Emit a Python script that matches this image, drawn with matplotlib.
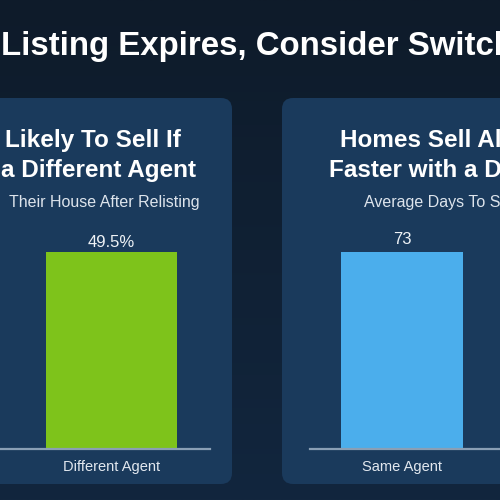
import numpy as np
import matplotlib
matplotlib.use("Agg")
import matplotlib.pyplot as plt
from matplotlib.patches import FancyBboxPatch

plt.rcParams['font.family'] = ['Liberation Sans', 'DejaVu Sans']

# data
left_cats = ['Different Agent']
left_vals = [49.5]
left_labels = ['49.5%']

right_cats = ['Same Agent']
right_vals = [73]
right_labels = ['73']

title = 'Listing Expires, Consider Switching Agents'
left_head = ['Likely To Sell If', 'a Different Agent']
left_sub = 'Their House After Relisting'
right_head = ['Homes Sell Almost', 'Faster with a Different Agent']
right_sub = 'Average Days To Sell'

W = H = 500.0
def fx(px):
    return px / W
def fy(py):
    return 1 - py / H

fig = plt.figure(figsize=(5, 5), dpi=100)

# background gradient
bg = fig.add_axes([0, 0, 1, 1], zorder=0)
grad = np.linspace(0, 1, 256).reshape(-1, 1)
top = np.array([14, 27, 42]) / 255.
bot = np.array([18, 38, 62]) / 255.
img = top + (bot - top) * grad[:, :, None]
bg.imshow(img, aspect='auto', extent=[0, 1, 0, 1])
bg.set_axis_off()

# panels
panel_col = '#1a3a5c'
for x0, x1 in [(-60, 232), (282, 560)]:
    p = FancyBboxPatch((fx(x0), fy(484)), fx(x1) - fx(x0), fy(98) - fy(484),
                       boxstyle='round,pad=0,rounding_size=0.022',
                       transform=fig.transFigure, facecolor=panel_col,
                       edgecolor='none', zorder=1)
    fig.patches.append(p)

# title
fig.text(fx(1), fy(55), title, ha='left', va='baseline', color='white',
         fontsize=23.8, fontweight='bold')

# panel headings
fig.text(fx(181), fy(147), left_head[0], ha='right', va='baseline', color='white',
         fontsize=17.5, fontweight='bold')
fig.text(fx(196), fy(177), left_head[1], ha='right', va='baseline', color='white',
         fontsize=17.5, fontweight='bold')
fig.text(fx(200), fy(207), left_sub, ha='right', va='baseline', color='#dde4ec',
         fontsize=11.5)

fig.text(fx(340), fy(147), right_head[0], ha='left', va='baseline', color='white',
         fontsize=17.5, fontweight='bold')
fig.text(fx(329), fy(177), right_head[1], ha='left', va='baseline', color='white',
         fontsize=17.5, fontweight='bold')
fig.text(fx(364), fy(207), right_sub, ha='left', va='baseline', color='#dde4ec',
         fontsize=11.5)


def bar_chart(ax, cats, vals, labels, color, xlim, pad):
    bars = ax.bar(cats, vals, width=0.8, color=color, zorder=2)
    ax.bar_label(bars, labels=labels, padding=pad, color='#eef2f6', fontsize=12)
    ax.set_xlim(*xlim)
    ax.set_ylim(0, max(vals) * 1.1)
    ax.set_facecolor('none')
    for s in ['top', 'left', 'right']:
        ax.spines[s].set_visible(False)
    ax.spines['bottom'].set_color('#8a9fb5')
    ax.spines['bottom'].set_linewidth(1.6)
    ax.spines['bottom'].set_zorder(3)
    ax.set_yticks([])
    ax.tick_params(axis='x', length=0, pad=8, labelcolor='#e2e8ef', labelsize=10.5)


axL = fig.add_axes([fx(0), fy(449), fx(210), fy(232) - fy(449)], zorder=2)
bar_chart(axL, left_cats, left_vals, left_labels, '#7ec31b', (-0.681, 0.602), 1)

axR = fig.add_axes([fx(310), fy(449), fx(200), fy(232) - fy(449)], zorder=2)
bar_chart(axR, right_cats, right_vals, right_labels, '#4baeec', (-0.603, 0.708), 3.5)

fig.savefig('out.png', dpi=100)
